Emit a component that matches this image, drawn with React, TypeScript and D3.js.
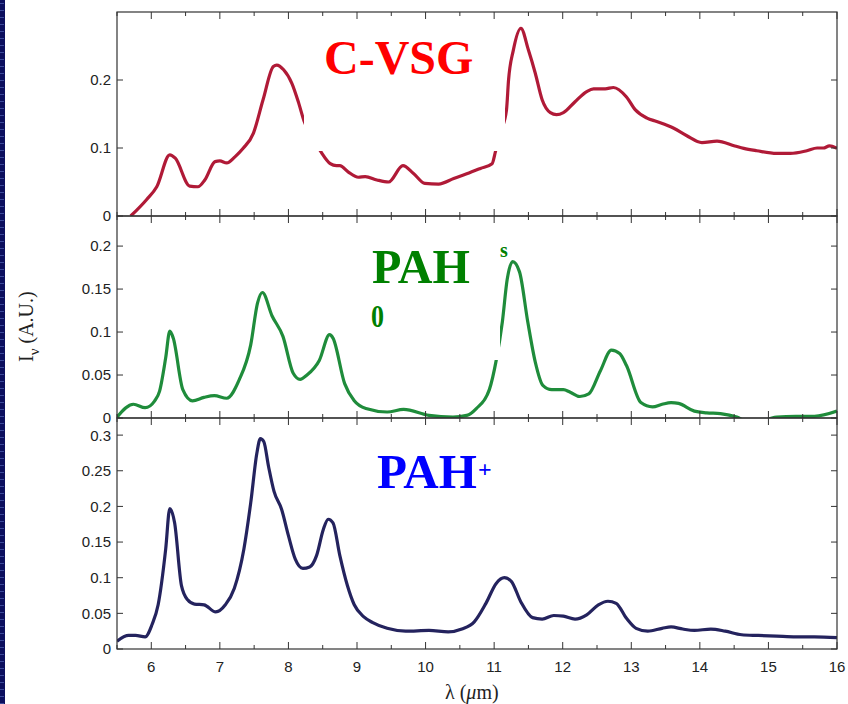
import React from "react";
import * as d3 from "d3";

// Wavelength grid (µm) and intensities for each component
const vsgWave = [5.70, 5.93, 6.08, 6.27, 6.35, 6.56, 6.68, 6.78, 6.93, 7.00, 7.10, 7.22, 7.34, 7.49, 7.63, 7.78, 7.83, 7.93, 8.05, 8.15, 8.23, 8.35, 8.47, 8.61, 8.70, 8.75, 8.87, 9.02, 9.12, 9.29, 9.46, 9.67, 9.82, 9.99, 10.19, 10.41, 10.60, 10.80, 10.97, 11.02, 11.10, 11.18, 11.21, 11.28, 11.39, 11.50, 11.60, 11.70, 11.82, 11.91, 12.01, 12.18, 12.35, 12.45, 12.62, 12.74, 12.93, 13.06, 13.23, 13.37, 13.62, 13.81, 14.03, 14.25, 14.51, 14.64, 14.83, 15.12, 15.32, 15.56, 15.71, 15.80, 15.89, 16.0];
const vsgFlux = [0.000, 0.024, 0.043, 0.090, 0.085, 0.044, 0.043, 0.053, 0.080, 0.081, 0.078, 0.087, 0.0995, 0.122, 0.171, 0.220, 0.222, 0.215, 0.195, 0.166, 0.139, 0.115, 0.095, 0.077, 0.074, 0.074, 0.065, 0.057, 0.058, 0.053, 0.050, 0.074, 0.063, 0.048, 0.047, 0.055, 0.062, 0.070, 0.077, 0.095, 0.125, 0.156, 0.200, 0.244, 0.276, 0.244, 0.210, 0.171, 0.152, 0.149, 0.152, 0.168, 0.183, 0.187, 0.187, 0.189, 0.175, 0.156, 0.144, 0.139, 0.129, 0.118, 0.108, 0.110, 0.103, 0.0995, 0.096, 0.092, 0.092, 0.096, 0.100, 0.100, 0.103, 0.0995];

const neutralWave = [5.50, 5.74, 5.91, 6.05, 6.12, 6.21, 6.27, 6.32, 6.46, 6.60, 6.77, 6.92, 7.10, 7.28, 7.45, 7.55, 7.62, 7.76, 7.92, 8.07, 8.17, 8.27, 8.45, 8.60, 8.65, 8.82, 8.96, 9.13, 9.44, 9.68, 10.05, 10.40, 10.60, 10.74, 10.93, 11.03, 11.12, 11.19, 11.27, 11.37, 11.49, 11.60, 11.71, 11.84, 12.01, 12.11, 12.25, 12.38, 12.55, 12.71, 12.83, 12.93, 13.14, 13.31, 13.45, 13.58, 13.69, 13.92, 14.10, 14.30, 14.54, 14.70, 14.90, 15.05, 15.12, 15.40, 15.67, 16.0];
const neutralFlux = [0.001, 0.016, 0.012, 0.020, 0.031, 0.070, 0.101, 0.093, 0.033, 0.020, 0.024, 0.026, 0.023, 0.044, 0.085, 0.134, 0.146, 0.119, 0.095, 0.052, 0.045, 0.050, 0.067, 0.097, 0.093, 0.040, 0.020, 0.011, 0.007, 0.010, 0.003, 0.001, 0.003, 0.011, 0.033, 0.067, 0.112, 0.161, 0.182, 0.170, 0.112, 0.065, 0.038, 0.033, 0.033, 0.030, 0.025, 0.028, 0.055, 0.079, 0.075, 0.061, 0.018, 0.013, 0.016, 0.018, 0.017, 0.008, 0.006, 0.005, 0.001, -0.004, -0.004, 0.000, 0.001, 0.002, 0.002, 0.008];

const cationWave = [5.50, 5.67, 5.77, 5.91, 6.01, 6.10, 6.21, 6.27, 6.34, 6.44, 6.53, 6.63, 6.77, 6.94, 7.08, 7.21, 7.35, 7.45, 7.54, 7.59, 7.64, 7.71, 7.79, 7.90, 8.00, 8.10, 8.21, 8.31, 8.41, 8.51, 8.58, 8.65, 8.75, 8.86, 8.96, 9.10, 9.23, 9.44, 9.71, 10.05, 10.33, 10.53, 10.71, 10.88, 11.03, 11.15, 11.25, 11.39, 11.56, 11.70, 11.87, 12.01, 12.18, 12.35, 12.52, 12.66, 12.78, 12.93, 13.07, 13.24, 13.45, 13.58, 13.75, 13.92, 14.16, 14.37, 14.61, 14.85, 15.12, 15.40, 15.67, 16.0];
const cationFlux = [0.011, 0.019, 0.019, 0.017, 0.034, 0.062, 0.140, 0.197, 0.177, 0.089, 0.069, 0.063, 0.062, 0.052, 0.062, 0.085, 0.140, 0.205, 0.275, 0.295, 0.291, 0.256, 0.221, 0.196, 0.159, 0.126, 0.113, 0.115, 0.131, 0.168, 0.182, 0.177, 0.131, 0.089, 0.062, 0.045, 0.037, 0.029, 0.025, 0.026, 0.024, 0.028, 0.038, 0.064, 0.092, 0.100, 0.095, 0.066, 0.044, 0.042, 0.047, 0.046, 0.042, 0.048, 0.062, 0.067, 0.064, 0.043, 0.029, 0.025, 0.029, 0.031, 0.028, 0.026, 0.028, 0.025, 0.020, 0.019, 0.018, 0.017, 0.017, 0.016];

const xTicks = [6, 7, 8, 9, 10, 11, 12, 13, 14, 15, 16];
const xMinorTicks = [5.5, 6.5, 7.5, 8.5, 9.5, 10.5, 11.5, 12.5, 13.5, 14.5, 15.5];
const vsgTicks = [0, 0.1, 0.2];
const neutralTicks = [0, 0.05, 0.1, 0.15, 0.2];
const cationTicks = [0, 0.05, 0.1, 0.15, 0.2, 0.25, 0.3];

const W = 848;
const H = 704;
const left = 117;
const right = 837;

const x = d3.scaleLinear().domain([5.5, 16]).range([left, right]);

type Panel = {
  id: string;
  top: number;
  bottom: number;
  yMax: number;
  ticks: number[];
  wave: number[];
  flux: number[];
  color: string;
};

const panels: Panel[] = [
  { id: "vsg", top: 12, bottom: 216, yMax: 0.3, ticks: vsgTicks, wave: vsgWave, flux: vsgFlux, color: "#b01a37" },
  { id: "pah0", top: 216, bottom: 418, yMax: 0.235, ticks: neutralTicks, wave: neutralWave, flux: neutralFlux, color: "#1f8c3b" },
  { id: "pahp", top: 418, bottom: 649, yMax: 0.324, ticks: cationTicks, wave: cationWave, flux: cationFlux, color: "#24235e" },
];

const tickFont = "'Liberation Sans', Arial, sans-serif";
const serif = "'Liberation Serif', 'Times New Roman', serif";

function PanelView({ p, showX }: { p: Panel; showX: boolean }) {
  const y = d3.scaleLinear().domain([0, p.yMax]).range([p.bottom, p.top]);
  const pts = p.wave.map((w, i) => [w, p.flux[i]] as [number, number]);
  const line = d3
    .line<[number, number]>()
    .x((d) => x(d[0]))
    .y((d) => y(d[1]))
    .curve(d3.curveMonotoneX);
  const clipId = `clip-${p.id}`;
  const fmt = (v: number) => (v === 0 ? "0" : String(v));
  return (
    <g>
      <defs>
        <clipPath id={clipId}>
          <rect x={left} y={p.top} width={right - left} height={p.bottom - p.top} />
        </clipPath>
      </defs>
      <path d={line(pts) ?? ""} fill="none" stroke={p.color} strokeWidth={3.2} strokeLinejoin="round" clipPath={`url(#${clipId})`} />
      <rect x={left} y={p.top} width={right - left} height={p.bottom - p.top} fill="none" stroke="#333" strokeWidth={1.2} />
      {p.ticks.map((t) => (
        <g key={`y${t}`}>
          <line x1={left} x2={left + 6} y1={y(t)} y2={y(t)} stroke="#333" />
          <line x1={right - 6} x2={right} y1={y(t)} y2={y(t)} stroke="#333" />
          <text x={left - 6} y={y(t)} dy="0.36em" textAnchor="end" fontFamily={tickFont} fontSize={15} fill="#222">
            {fmt(t)}
          </text>
        </g>
      ))}
      {xTicks.map((t) => (
        <g key={`x${t}`}>
          <line x1={x(t)} x2={x(t)} y1={p.bottom} y2={p.bottom - 7} stroke="#333" />
          <line x1={x(t)} x2={x(t)} y1={p.top} y2={p.top + 7} stroke="#333" />
          {showX && (
            <text x={x(t)} y={p.bottom + 23} textAnchor="middle" fontFamily={tickFont} fontSize={15} fill="#222">
              {t}
            </text>
          )}
        </g>
      ))}
      {xMinorTicks.map((t) => (
        <g key={`m${t}`}>
          <line x1={x(t)} x2={x(t)} y1={p.bottom} y2={p.bottom - 4} stroke="#333" />
          <line x1={x(t)} x2={x(t)} y1={p.top} y2={p.top + 4} stroke="#333" />
        </g>
      ))}
    </g>
  );
}

export default function App() {
  return (
    <svg width={W} height={H} style={{ position: "absolute", left: 0, top: 0, background: "#fff" }}>
      <defs>
        <pattern id="strip" width="6" height="7" patternUnits="userSpaceOnUse">
          <rect width="6" height="7" fill="#0c0f5e" />
          <line x1="0" x2="4" y1="3.5" y2="3.5" stroke="#3c4a9a" strokeWidth="1" />
        </pattern>
      </defs>
      <rect x={0} y={0} width={W} height={H} fill="#fff" />
      <rect x={0} y={0} width={5} height={H} fill="url(#strip)" />

      {panels.map((p, i) => (
        <PanelView key={p.id} p={p} showX={i === panels.length - 1} />
      ))}

      {/* Opaque label boxes */}
      <rect x={304} y={24} width={201} height={127} fill="#fff" />
      <text x={324} y={74} fontFamily={serif} fontWeight="bold" fontSize={48} fill="#ff0000">C-VSG</text>

      <rect x={352} y={228} width={148} height={132} fill="#fff" />
      <text x={372} y={283} fontFamily={serif} fontWeight="bold" fontSize={48} fill="#008000" textLength={98} lengthAdjust="spacingAndGlyphs">PAH</text>
      <text x={371} y={327} fontFamily={serif} fontWeight="bold" fontSize={32} fill="#008000" textLength={13} lengthAdjust="spacingAndGlyphs">0</text>
      <text x={500} y={257} fontFamily={serif} fontWeight="bold" fontSize={20} fill="#008000">s</text>

      <text x={377} y={488} fontFamily={serif} fontWeight="bold" fontSize={48} fill="#0000ff" textLength={100} lengthAdjust="spacingAndGlyphs">PAH</text>
      <text x={478} y={477} fontFamily={serif} fontWeight="bold" fontSize={24} fill="#0000ff">+</text>

      {/* Axis titles */}
      <text x={445} y={699} fontFamily={serif} fontSize={20} fill="#222">
        λ (<tspan fontStyle="italic">μ</tspan>m)
      </text>
      <text transform="translate(33,362) rotate(-90)" fontFamily={serif} fontSize={20} fill="#222">
        I<tspan dy={6} fontSize={15}>ν</tspan><tspan dy={-6}> (A.U.)</tspan>
      </text>
    </svg>
  );
}
